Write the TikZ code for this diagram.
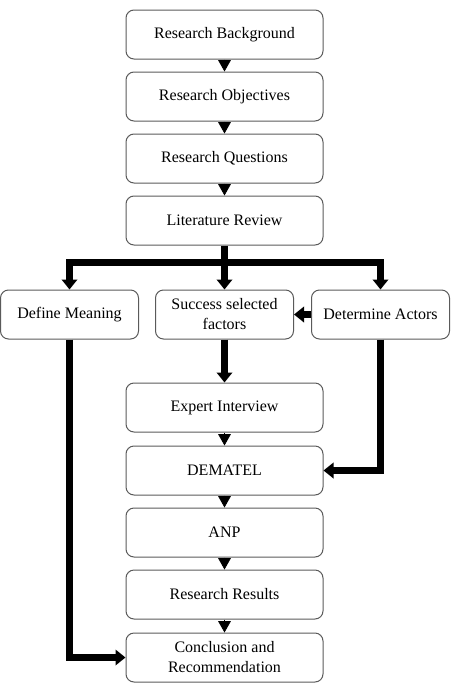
\documentclass[tikz,border=0pt]{standalone}
\usepackage{fontspec}
\setmainfont{Liberation Serif}
\usetikzlibrary{arrows.meta}

\tikzset{every picture/.style={line width=0.75pt}}
\tikzset{
  stepbox/.style={draw={rgb, 255:red, 90; green, 90; blue, 90}, rounded corners=6pt, align=center,
    minimum width=147.75pt, minimum height=36.75pt, inner sep=0.75pt,
    font=\fontsize{12}{15}\selectfont},
  sidebox/.style={stepbox, minimum width=103.5pt},
  tri/.style={line width=0.5pt, -{Triangle[width=9.5pt,length=8.5pt]}},
  bigarrow/.style={line width=5.25pt, -{Triangle[width=11.5pt,length=7.5pt]}}
}

\begin{document}
\begin{tikzpicture}[x=0.75pt,y=0.75pt,yscale=-1,xscale=1]
\path[use as bounding box] (0,0) rectangle (455,686);

% main column
\node[stepbox] (rb) at (224.5,34.5) {Research Background};
\node[stepbox] (ro) at (224.5,96.5) {Research Objectives};
\node[stepbox] (rq) at (224.5,158.5) {Research Questions};
\node[stepbox] (lr) at (224.5,220.5) {Literature Review};

% middle row
\node[sidebox] (dm) at (69.5,314.5) {Define Meaning};
\node[sidebox] (sf) at (224.5,314.5) {Success selected\\factors};
\node[sidebox] (da) at (380.5,314.5) {Determine Actors};

% lower column
\node[stepbox] (ei) at (224.5,407.5) {Expert Interview};
\node[stepbox] (de) at (224.5,470.5) {DEMATEL};
\node[stepbox] (anp) at (224.5,532.5) {ANP};
\node[stepbox] (rr) at (224.5,594.5) {Research Results};
\node[stepbox] (cr) at (224.5,657.5) {Conclusion and\\Recommendation};

% small arrows
\draw[tri] (rb.south) -- (ro.north);
\draw[tri] (ro.south) -- (rq.north);
\draw[tri] (rq.south) -- (lr.north);
\draw[tri] (ei.south) -- (de.north);
\draw[tri] (de.south) -- (anp.north);
\draw[tri] (anp.south) -- (rr.north);
\draw[tri] (rr.south) -- (cr.north);

% thick arrows
\coordinate (junc) at (224.5,262);
\draw[bigarrow] (lr.south) -- (sf.north);
\draw[bigarrow] (junc) -| (dm.north);
\draw[bigarrow] (junc) -| (da.north);
\draw[bigarrow] (da.west) -- (sf.east);
\draw[bigarrow] (sf.south) -- (ei.north);
\draw[bigarrow] (da.south) |- (de.east);
\draw[bigarrow] (dm.south) |- (cr.west);

\end{tikzpicture}
\end{document}
